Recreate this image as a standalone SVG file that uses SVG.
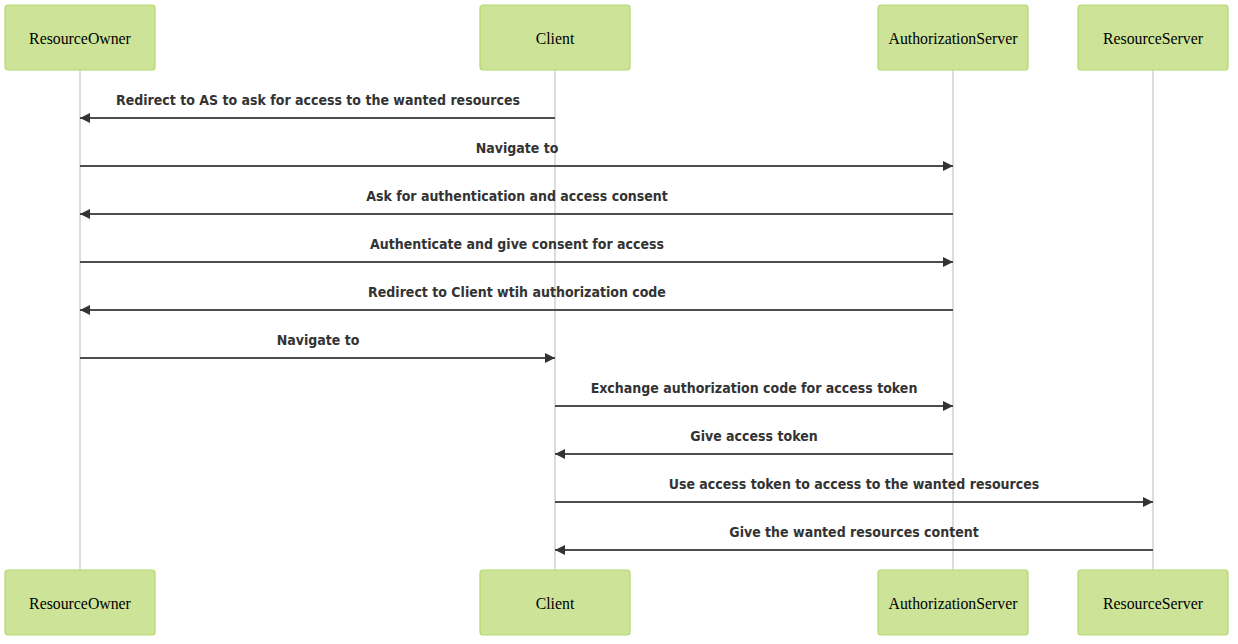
<svg xmlns="http://www.w3.org/2000/svg" width="1238" height="644" viewBox="0 0 1238 644">
<style>
.actor rect{fill:#cde498;stroke:#b2d96c;stroke-width:1.2}
.actor text{font-family:"Liberation Serif",serif;font-size:15.8px;fill:#000;text-anchor:middle;dominant-baseline:central}
.life{stroke:#d0d0d0;stroke-width:1.5}
.msg{stroke:#4d4d4d;stroke-width:2;fill:none}
.lbl{font-family:"DejaVu Sans Condensed","DejaVu Sans",sans-serif;font-weight:bold;font-size:14px;fill:#333;text-anchor:middle}
</style>
<defs>
<marker id="ah" viewBox="0 0 10 10" refX="10" refY="5" markerWidth="10" markerHeight="10" markerUnits="userSpaceOnUse" orient="auto">
<path d="M0,0 L10,5 L0,10 z" fill="#333"/>
</marker>
</defs>
<g id="lifelines">
<line class="life" x1="80" y1="70" x2="80" y2="570"/>
<line class="life" x1="555" y1="70" x2="555" y2="570"/>
<line class="life" x1="953" y1="70" x2="953" y2="570"/>
<line class="life" x1="1153" y1="70" x2="1153" y2="570"/>
</g>
<g id="actor-ResourceOwner-top" class="actor"><rect x="5" y="5" width="150" height="65" rx="3"/><text x="80" y="38">ResourceOwner</text></g>
<g id="actor-Client-top" class="actor"><rect x="480" y="5" width="150" height="65" rx="3"/><text x="555" y="38">Client</text></g>
<g id="actor-AuthorizationServer-top" class="actor"><rect x="878" y="5" width="150" height="65" rx="3"/><text x="953" y="38">AuthorizationServer</text></g>
<g id="actor-ResourceServer-top" class="actor"><rect x="1078" y="5" width="150" height="65" rx="3"/><text x="1153" y="38">ResourceServer</text></g>
<g id="actor-ResourceOwner-bottom" class="actor"><rect x="5" y="570" width="150" height="65" rx="3"/><text x="80" y="603">ResourceOwner</text></g>
<g id="actor-Client-bottom" class="actor"><rect x="480" y="570" width="150" height="65" rx="3"/><text x="555" y="603">Client</text></g>
<g id="actor-AuthorizationServer-bottom" class="actor"><rect x="878" y="570" width="150" height="65" rx="3"/><text x="953" y="603">AuthorizationServer</text></g>
<g id="actor-ResourceServer-bottom" class="actor"><rect x="1078" y="570" width="150" height="65" rx="3"/><text x="1153" y="603">ResourceServer</text></g>
<g id="connectors">
<line class="msg" x1="555" y1="118" x2="80" y2="118" marker-end="url(#ah)"/>
<text class="lbl" x="318" y="105">Redirect to AS to ask for access to the wanted resources</text>
<line class="msg" x1="80" y1="166" x2="953" y2="166" marker-end="url(#ah)"/>
<text class="lbl" x="517" y="153">Navigate to</text>
<line class="msg" x1="953" y1="214" x2="80" y2="214" marker-end="url(#ah)"/>
<text class="lbl" x="517" y="201">Ask for authentication and access consent</text>
<line class="msg" x1="80" y1="262" x2="953" y2="262" marker-end="url(#ah)"/>
<text class="lbl" x="517" y="249">Authenticate and give consent for access</text>
<line class="msg" x1="953" y1="310" x2="80" y2="310" marker-end="url(#ah)"/>
<text class="lbl" x="517" y="297">Redirect to Client wtih authorization code</text>
<line class="msg" x1="80" y1="358" x2="555" y2="358" marker-end="url(#ah)"/>
<text class="lbl" x="318" y="345">Navigate to</text>
<line class="msg" x1="555" y1="406" x2="953" y2="406" marker-end="url(#ah)"/>
<text class="lbl" x="754" y="393">Exchange authorization code for access token</text>
<line class="msg" x1="953" y1="454" x2="555" y2="454" marker-end="url(#ah)"/>
<text class="lbl" x="754" y="441">Give access token</text>
<line class="msg" x1="555" y1="502" x2="1153" y2="502" marker-end="url(#ah)"/>
<text class="lbl" x="854" y="489">Use access token to access to the wanted resources</text>
<line class="msg" x1="1153" y1="550" x2="555" y2="550" marker-end="url(#ah)"/>
<text class="lbl" x="854" y="537">Give the wanted resources content</text>
</g>
</svg>
